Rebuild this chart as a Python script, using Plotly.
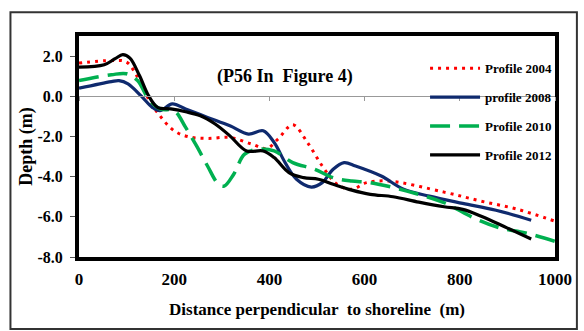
import plotly.graph_objects as go

# ---- data ----
x2004 = [0, 68, 100, 123, 146, 170, 200, 231, 270, 317, 363, 394, 418, 449, 480, 511, 542, 573, 604, 650, 767, 845, 922, 1000]
y2004 = [1.65, 1.78, 1.7, 0.95, -0.13, -0.97, -1.72, -2.02, -2.1, -2.05, -2.38, -2.6, -2.13, -1.42, -2.3, -3.47, -4.38, -4.63, -4.3, -4.22, -4.77, -5.22, -5.63, -6.22]

x2008 = [0, 68, 84, 103, 130, 154, 170, 196, 224, 270, 317, 356, 387, 410, 433, 457, 488, 511, 534, 557, 581, 635, 682, 736, 806, 876, 950]
y2008 = [0.4, 0.73, 0.78, 0.62, 0.03, -0.55, -0.72, -0.38, -0.63, -1.05, -1.47, -1.88, -1.72, -2.3, -3.3, -4.13, -4.52, -4.3, -3.63, -3.3, -3.47, -3.97, -4.63, -4.97, -5.33, -5.67, -6.17]

x2010 = [0, 68, 100, 123, 146, 170, 200, 224, 247, 270, 293, 305, 325, 348, 379, 410, 449, 495, 534, 573, 612, 689, 767, 829, 884, 938, 1000]
y2010 = [0.78, 1.07, 1.12, 0.78, -0.13, -0.63, -0.72, -1.55, -2.47, -3.47, -4.38, -4.47, -3.88, -2.88, -2.63, -2.72, -3.3, -3.63, -4.05, -4.22, -4.3, -4.72, -5.3, -6.05, -6.55, -6.8, -7.22]

x2012 = [0, 53, 76, 92, 107, 127, 146, 165, 193, 224, 255, 286, 317, 352, 387, 410, 441, 472, 503, 534, 573, 612, 660, 714, 767, 806, 845, 899, 950]
y2012 = [1.45, 1.57, 1.87, 2.07, 1.9, 1.03, 0.03, -0.55, -0.63, -0.77, -0.97, -1.38, -1.97, -2.72, -2.72, -3.05, -3.8, -4.05, -4.13, -4.38, -4.67, -4.88, -5.0, -5.27, -5.5, -5.63, -5.97, -6.55, -7.1]

names = ["Profile 2004", "profile 2008", "Profile 2010", "Profile 2012"]
x_ticks = [0, 200, 400, 600, 800, 1000]
y_ticks = [-8, -6, -4, -2, 0, 2]
y_ticktext = ["%.1f" % v for v in y_ticks]

FONT = "Liberation Serif"

fig = go.Figure()
series = [
    (x2004, y2004, names[0], dict(color="#FF0000", width=3, dash="3px,5px")),
    (x2008, y2008, names[1], dict(color="#0F2A6E", width=3.2)),
    (x2010, y2010, names[2], dict(color="#00B050", width=3.5, dash="20px,9px")),
    (x2012, y2012, names[3], dict(color="#000000", width=3.2)),
]
for i, (xs, ys, nm, ln) in enumerate(series):
    ln["shape"] = "spline"
    ln["smoothing"] = 1.0
    fig.add_trace(go.Scatter(x=xs, y=ys, name=nm, mode="lines", line=ln,
                             legendgroup=str(i)))

# helper trace so the y=0 axis (with tick marks) is drawn
fig.add_trace(go.Scatter(x=[x_ticks[0]], y=[0], xaxis="x2", mode="none",
                         showlegend=False, hoverinfo="skip"))

y_lo, y_hi = -8, 3

fig.update_layout(
    width=584, height=331,
    margin=dict(l=79, r=25, t=36, b=74),
    paper_bgcolor="white", plot_bgcolor="white",
    font=dict(family=FONT, size=15, color="black", weight="bold"),
    showlegend=True,
    legend=dict(x=0.727, y=0.922, xanchor="left", yanchor="top",
                bgcolor="rgba(0,0,0,0)", font=dict(size=13, family=FONT, weight="bold"),
                tracegroupgap=9, itemwidth=50),
    xaxis=dict(range=[0, 1000], tickvals=x_ticks, showgrid=False, zeroline=False,
               showline=True, linecolor="black", linewidth=4, mirror=True,
               ticks="", ticklabelstandoff=4,
               tickfont=dict(size=17, family=FONT, weight="bold"),
               title=dict(text="Distance perpendicular  to shoreline  (m)",
                          font=dict(size=17, family=FONT, weight="bold"), standoff=16)),
    xaxis2=dict(range=[0, 1000], tickvals=x_ticks, overlaying="x", anchor="free",
                position=(0 - y_lo) / (y_hi - y_lo), side="bottom",
                showline=True, linecolor="#999999", linewidth=1,
                ticks="outside", ticklen=4, tickcolor="#999999", tickwidth=1,
                showticklabels=False, showgrid=False, zeroline=False),
    yaxis=dict(range=[y_lo, y_hi], tickvals=y_ticks, ticktext=y_ticktext,
               showgrid=False, zeroline=False,
               showline=True, linecolor="black", linewidth=4, mirror=True,
               ticks="outside", ticklen=5, tickcolor="#555555", tickwidth=1,
               ticklabelstandoff=4,
               tickfont=dict(size=16, family=FONT, weight="bold"),
               title=dict(text="Depth (m)", font=dict(size=18, family=FONT, weight="bold"),
                          standoff=1)),
    annotations=[dict(text="(P56 In  Figure 4)", xref="paper", yref="paper",
                      x=0.433, y=0.819, xanchor="center", yanchor="middle",
                      showarrow=False,
                      font=dict(size=18, family=FONT, weight="bold"))],
    shapes=[dict(type="rect", xref="paper", yref="paper",
                 x0=-0.144, x1=1.046, y0=-0.326, y1=1.108,
                 line=dict(color="#333333", width=2), layer="below")],
)

fig.write_html("out.html")
